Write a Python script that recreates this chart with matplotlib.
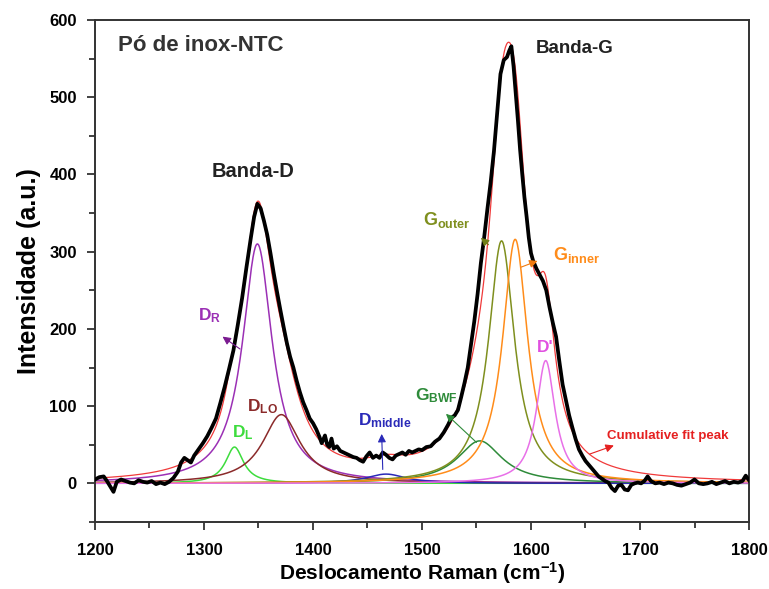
import numpy as np
import matplotlib
matplotlib.use('Agg')
import matplotlib.pyplot as plt
from matplotlib.ticker import MultipleLocator

plt.rcParams['font.family'] = ['Liberation Sans', 'DejaVu Sans']
plt.rcParams['font.weight'] = 'bold'
plt.rcParams['mathtext.fontset'] = 'custom'
plt.rcParams['mathtext.rm'] = 'Liberation Sans:bold'
plt.rcParams['mathtext.it'] = 'Liberation Sans:bold'
plt.rcParams['mathtext.bf'] = 'Liberation Sans:bold'

# Espectro Raman medido
raman_x = [1200, 1204, 1208, 1211, 1214, 1217, 1220, 1224, 1228, 1232, 1236, 1240, 1244, 1248,
           1252, 1256, 1260, 1264, 1268, 1272, 1276, 1279, 1282, 1285, 1288, 1291, 1295, 1299,
           1303, 1307, 1311, 1315, 1319, 1323, 1327, 1331, 1335, 1339, 1343, 1346, 1349, 1352,
           1355, 1358, 1361, 1364, 1367, 1370, 1373, 1376, 1379, 1382, 1385, 1388, 1391, 1394,
           1397, 1400, 1403, 1406, 1408, 1411, 1413, 1415, 1417, 1419, 1422, 1425, 1428, 1431,
           1434, 1437, 1440, 1443, 1446, 1449, 1452, 1455, 1458, 1461, 1464, 1467, 1470, 1473,
           1476, 1479, 1482, 1485, 1488, 1491, 1494, 1497, 1500, 1504, 1508, 1512, 1516, 1520,
           1524, 1527, 1530, 1533, 1536, 1539, 1542, 1545, 1548, 1551, 1554, 1557, 1560, 1563,
           1566, 1569, 1572, 1575, 1578, 1580, 1582, 1584, 1586, 1588, 1590, 1592, 1594, 1596,
           1598, 1600, 1602, 1605, 1608, 1611, 1614, 1617, 1620, 1623, 1626, 1629, 1632, 1635,
           1638, 1641, 1644, 1647, 1650, 1653, 1656, 1659, 1662, 1665, 1668, 1671, 1674, 1677,
           1680, 1683, 1686, 1689, 1692, 1695, 1698, 1701, 1704, 1707, 1710, 1714, 1718, 1722,
           1726, 1730, 1734, 1738, 1742, 1746, 1750, 1754, 1758, 1762, 1766, 1770, 1774, 1778,
           1782, 1786, 1790, 1794, 1797, 1800]
intensidade = [5, 8, 9, 3, -4, -11, 2, 5, 3, 1, 0, 4, 2, 1,
               3, -1, 1, -1, 2, 7, 15, 27, 33, 30, 27, 36, 44, 52,
               61, 72, 84, 104, 125, 148, 172, 205, 240, 280, 318, 345, 362, 356,
               340, 322, 298, 272, 248, 225, 203, 182, 164, 150, 133, 118, 105, 95,
               84, 78, 70, 60, 52, 62, 50, 47, 58, 45, 48, 42, 40, 38,
               36, 34, 33, 30, 28, 35, 40, 33, 36, 33, 40, 37, 33, 31,
               36, 38, 40, 37, 42, 40, 42, 44, 43, 47, 48, 54, 58, 66,
               76, 85, 88, 95, 112, 130, 150, 180, 210, 245, 285, 318, 355, 390,
               430, 480, 530, 548, 552, 560, 566, 540, 505, 470, 432, 400, 370, 345,
               318, 298, 288, 278, 270, 262, 250, 228, 208, 190, 158, 128, 108, 88,
               72, 57, 44, 36, 29, 24, 19, 14, 9, 6, 3, 1, -6, -10,
               -3, -2, -8, -9, -2, 0, 1, 0, 3, 9, 3, 0, 1, -1,
               1, 0, -2, -3, -1, 1, 5, 0, -1, 0, 2, -1, 1, 3,
               0, 2, 1, 3, 10, 4]

# Componentes do ajuste (Lorentzianas): centro, altura, FWHM
comp_nome = ['DL', 'DR', 'DLO', 'Dmiddle', 'GBWF', 'Gouter', 'Ginner', 'Dlinha']
comp_centro = [1328, 1349, 1371, 1467, 1553, 1573, 1585.5, 1613.5]
comp_altura = [47, 310, 89, 12, 55, 314, 316, 159]
comp_fwhm = [20, 33, 42, 45, 50, 29, 28, 21]
comp_cor = ['#3ddc3d', '#9b30b5', '#8b2a2a', '#2a2ab8', '#2e8b3a', '#7f8f1e', '#ff8c1a', '#e870e8']


def lorentz(x, c, a, w):
    return a / (1 + ((x - c) / (w / 2)) ** 2)


xx = np.linspace(1200, 1800, 1201)
curvas = [lorentz(xx, c, a, w) for c, a, w in zip(comp_centro, comp_altura, comp_fwhm)]
cumulativo = np.sum(curvas, axis=0)

fig = plt.figure(figsize=(7.69, 5.89), dpi=100)
ax = fig.add_axes([0.1235, 0.1138, 0.8505, 0.8523])

for y, cor in zip(curvas, comp_cor):
    ax.plot(xx, y, color=cor, lw=1.1, zorder=2)
ax.plot(xx, cumulativo, color='#f03a3a', lw=0.9, zorder=3)
ax.plot(raman_x, intensidade, color='black', lw=2.7, zorder=4)

ax.set_xlim(1200, 1800)
ax.set_ylim(-50, 600)
ax.xaxis.set_major_locator(MultipleLocator(100))
ax.xaxis.set_minor_locator(MultipleLocator(50))
ax.yaxis.set_major_locator(MultipleLocator(100))
ax.yaxis.set_minor_locator(MultipleLocator(50))
ax.set_yticks([0, 100, 200, 300, 400, 500, 600])
ax.tick_params(which='both', direction='out', top=False, right=False, labelsize=12, width=1.3, color='#333333')
ax.tick_params(which='major', length=6)
ax.tick_params(which='minor', length=4)
ax.tick_params(axis='x', pad=9)
ax.tick_params(axis='y', pad=7)
for s in ax.spines.values():
    s.set_linewidth(1.4)
    s.set_color('#333333')
for lab in ax.get_xticklabels() + ax.get_yticklabels():
    lab.set_fontweight('bold')

ax.set_xlabel(r'Deslocamento Raman (cm$^{-1}$)', fontsize=15, fontweight='bold', labelpad=2)
ax.set_ylabel('Intensidade (a.u.)', fontsize=18, fontweight='bold', labelpad=6)

# Textos
ax.text(1221, 560, 'Pó de inox-NTC', fontsize=16, fontweight='bold', color='#333333', va='baseline')
ax.text(1604, 557, 'Banda-G', fontsize=13.5, fontweight='bold', color='#222222', va='baseline')
ax.text(1307, 397, 'Banda-D', fontsize=14.5, fontweight='bold', color='#222222', va='baseline')

ax.text(1294.5, 211, r'D$_{R}$', fontsize=12.5, color='#9b30b5', va='baseline')
ax.text(1339.5, 93, r'D$_{LO}$', fontsize=12.5, color='#8b2a2a', va='baseline')
ax.text(1325.7, 59, r'D$_{L}$', fontsize=12.5, color='#3ddc3d', va='baseline')
ax.text(1441, 75, r'D$_{middle}$', fontsize=12.5, color='#2a2ab8', va='baseline')
ax.text(1493.6, 107, r'G$_{BWF}$', fontsize=12.5, color='#2e8b3a', va='baseline')
ax.text(1501, 334, r'G$_{outer}$', fontsize=13, color='#7f8f1e', va='baseline')
ax.text(1620, 289, r'G$_{inner}$', fontsize=13, color='#ff8c1a', va='baseline')
ax.text(1605.5, 170, "D'", fontsize=12.5, color='#e050e0', va='baseline')
ax.text(1669.7, 58, 'Cumulative fit peak', fontsize=9.5, color='#e52020', va='baseline')

# Setas
setas = [((1317, 190), (1333, 174), '#7a1a90'),
         ((1554, 318), (1561, 309), '#6f7f1a'),
         ((1606, 288), (1591, 280), '#f07a10'),
         ((1522, 90), (1550, 53), '#2e8b3a'),
         ((1463, 64), (1464, 18), '#2a2ab8'),
         ((1676, 49), (1654, 38), '#e52020')]
for ponta, base, cor in setas:
    ax.annotate('', xy=ponta, xytext=base,
                arrowprops=dict(arrowstyle='-|>', color=cor, lw=0.8, mutation_scale=12,
                                shrinkA=0, shrinkB=0), zorder=5)

fig.savefig('out.png', dpi=100)
